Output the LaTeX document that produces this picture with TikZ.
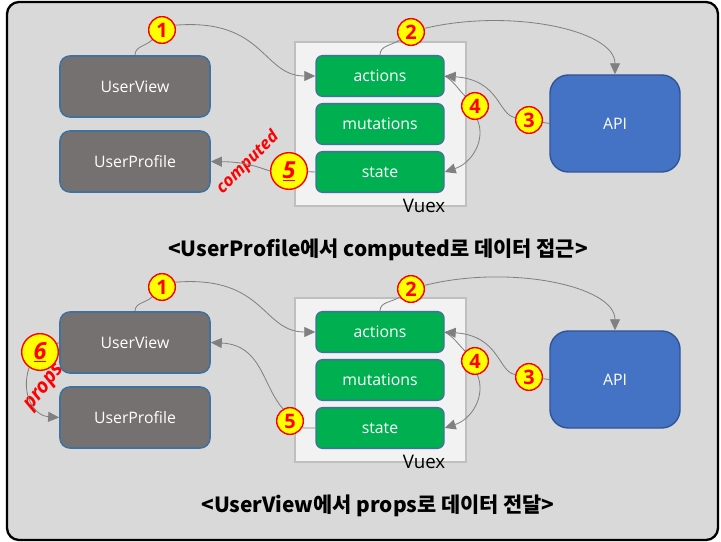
\documentclass[tikz,border=0pt]{standalone}
\usepackage{fontspec}
\setmainfont{Open Sans}
\newfontfamily\kor{Noto Sans CJK KR}
\usepackage{xcolor}
\definecolor{panelgray}{HTML}{D9D9D9}
\definecolor{compgray}{HTML}{767171}
\definecolor{compline}{HTML}{41719C}
\definecolor{storegreen}{HTML}{00B050}
\definecolor{apiblue}{HTML}{4472C4}
\definecolor{apiline}{HTML}{2F5597}
\definecolor{vuexfill}{HTML}{F2F2F2}
\definecolor{vuexline}{HTML}{BFBFBF}
\definecolor{flowgray}{HTML}{808080}
\definecolor{numyellow}{HTML}{FFFF00}
\definecolor{numred}{HTML}{FF0000}
\usetikzlibrary{arrows.meta,positioning}

\begin{document}
\begin{tikzpicture}[
  x=0.03cm, y=-0.03cm,
  comp/.style={rectangle, rounded corners=0.3cm, draw=compline, line width=1.4pt,
    fill=compgray, text=white, minimum width=4.5cm, minimum height=1.83cm,
    font=\fontsize{13.5}{15}\selectfont},
  store/.style={rectangle, rounded corners=0.2cm, draw=compline, line width=1.2pt,
    fill=storegreen, text=white, minimum width=3.84cm, minimum height=1.22cm,
    font=\fontsize{13.5}{15}\selectfont},
  apibox/.style={rectangle, rounded corners=0.55cm, draw=apiline, line width=1.2pt,
    fill=apiblue, text=white, minimum width=3.9cm, minimum height=2.91cm,
    font=\fontsize{13.5}{15}\selectfont},
  vuexbox/.style={rectangle, draw=vuexline, line width=1.2pt, fill=vuexfill,
    minimum width=5.13cm, minimum height=4.92cm},
  num/.style={circle, fill=numyellow, draw=numred, line width=1.2pt, text=numred,
    inner sep=0pt, minimum size=0.8cm, font=\fontsize{17}{17}\selectfont\bfseries},
  bignum/.style={num, minimum size=1.1cm, font=\fontsize{20}{20}\selectfont\bfseries\itshape},
  tag/.style={text=numred, inner sep=0pt, font=\bfseries\itshape},
  title/.style={font=\kor\fontsize{17.8}{18}\selectfont\bfseries},
  line/.style={draw=flowgray, line width=0.7pt},
  flow/.style={line, -{Triangle[length=0.33cm, width=0.3cm]}}
  ]
  \useasboundingbox (0,0) rectangle (721,542);
  \draw[line width=2pt, fill=panelgray, rounded corners=0.36cm] (7,2) rectangle (718,540);

  % upper panel
  \node[comp] (uv) at (135,86.5) {UserView};
  \node[comp] (up) at (135,161.5) {UserProfile};
  \node[vuexbox] (vx) at (380.5,124) {};
  \node[font=\fontsize{16}{16}\selectfont] (vxl) at (424,206) {Vuex};
  \node[store] (act) at (380,76) {actions};
  \node[store] (mut) at (380,124) {mutations};
  \node[store] (st) at (380,172) {state};
  \node[apibox] (api) at (615,123.5) {API};
  \node[title] (t1) at (378,250) {<UserProfile에서 computed로 데이터 접근>};

  \node[num] (n1) at (162,30) {1};
  \node[num] (n2) at (411,32) {2};
  \node[num] (n3) at (529,120) {3};
  \node[num] (n4) at (475,106) {4};
  \node[bignum] (n5) at (289,171) {\underline{5}};
  \node[tag, rotate=45, font=\fontsize{14.5}{15}\selectfont\bfseries\itshape] (cmp) at (248,163) {computed};

  \draw[line] (uv.north) to[out=90,in=225] (n1);
  \draw[flow] (n1.20) .. controls (265,18) and (262,76) .. (act.west);
  \draw[line] (act.north) to[out=90,in=215] (n2);
  \draw[flow] (n2.15) .. controls (510,8) and (615,30) .. (api.north);
  \draw[line] (api.west) -- (n3);
  \draw[flow] (n3.170) .. controls (498,115) and (500,80) .. (act.east);
  \draw[line] (act.east) to[out=-30,in=135] (n4);
  \draw[flow] (n4.-80) .. controls (486,140) and (472,163) .. (st.east);
  \draw[line] (st.west) -- (n5);
  \draw[flow] (n5.west) .. controls (255,166) and (245,162) .. (up.east);

  % lower panel
  \node[comp] (uv2) at (135,342.5) {UserView};
  \node[comp] (up2) at (135,417.5) {UserProfile};
  \node[vuexbox] (vx2) at (380.5,380) {};
  \node[font=\fontsize{16}{16}\selectfont] (vxl2) at (424,462) {Vuex};
  \node[store] (act2) at (380,332) {actions};
  \node[store] (mut2) at (380,380) {mutations};
  \node[store] (st2) at (380,428) {state};
  \node[apibox] (api2) at (615,379.5) {API};
  \node[title] (t2) at (378,506) {<UserView에서 props로 데이터 전달>};

  \node[num] (m1) at (162,287) {1};
  \node[num] (m2) at (411,289) {2};
  \node[num] (m3) at (529,377) {3};
  \node[num] (m4) at (475,361) {4};
  \node[num] (m5) at (290,421) {5};
  \node[bignum] (m6) at (40,352) {\underline{6}};
  \node[tag, rotate=52, font=\fontsize{17}{17}\selectfont\bfseries\itshape] (prp) at (45,388) {props};

  \draw[line] (uv2.north) to[out=90,in=225] (m1);
  \draw[flow] (m1.20) .. controls (265,275) and (262,332) .. (act2.west);
  \draw[line] (act2.north) to[out=90,in=215] (m2);
  \draw[flow] (m2.15) .. controls (510,264) and (615,286) .. (api2.north);
  \draw[line] (api2.west) -- (m3);
  \draw[flow] (m3.170) .. controls (498,372) and (500,336) .. (act2.east);
  \draw[line] (act2.east) to[out=-30,in=135] (m4);
  \draw[flow] (m4.-80) .. controls (486,396) and (472,419) .. (st2.east);
  \draw[line] (st2.west) -- (m5.-30);
  \draw[flow] (m5.120) .. controls (262,385) and (262,345) .. (uv2.east);
  \draw[line] (uv2.west) -- (m6);
  \draw[flow] (m6.235) .. controls (20,395) and (35,416) .. (up2.west);
\end{tikzpicture}
\end{document}
